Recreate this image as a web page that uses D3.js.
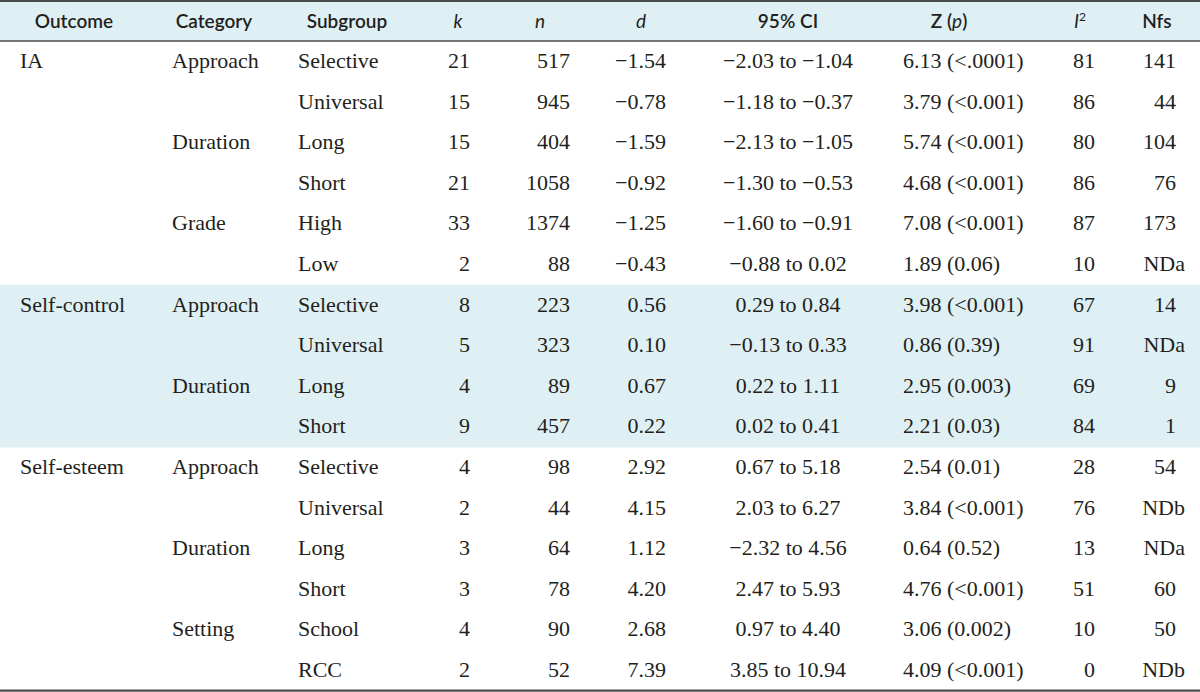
<!DOCTYPE html>
<html>
<head>
<meta charset="utf-8">
<script src="https://cdn.jsdelivr.net/npm/d3@7"></script>
<style>
  html, body { margin: 0; padding: 0; background: #fff; }
  svg { display: block; }
</style>
</head>
<body>
<svg id="chart" width="1200" height="692"></svg>
<script>
// ---- Data ----
const outcomes   = ["IA", "", "", "", "", "", "Self-control", "", "", "", "Self-esteem", "", "", "", "", ""];
const categories = ["Approach", "", "Duration", "", "Grade", "", "Approach", "", "Duration", "", "Approach", "", "Duration", "", "Setting", ""];
const subgroups  = ["Selective", "Universal", "Long", "Short", "High", "Low", "Selective", "Universal", "Long", "Short", "Selective", "Universal", "Long", "Short", "School", "RCC"];
const kValues    = [21, 15, 15, 21, 33, 2, 8, 5, 4, 9, 4, 2, 3, 3, 4, 2];
const nValues    = [517, 945, 404, 1058, 1374, 88, 223, 323, 89, 457, 98, 44, 64, 78, 90, 52];
const dValues    = ["−1.54", "−0.78", "−1.59", "−0.92", "−1.25", "−0.43", "0.56", "0.10", "0.67", "0.22", "2.92", "4.15", "1.12", "4.20", "2.68", "7.39"];
const ciValues   = ["−2.03 to −1.04", "−1.18 to −0.37", "−2.13 to −1.05", "−1.30 to −0.53", "−1.60 to −0.91", "−0.88 to 0.02",
                    "0.29 to 0.84", "−0.13 to 0.33", "0.22 to 1.11", "0.02 to 0.41",
                    "0.67 to 5.18", "2.03 to 6.27", "−2.32 to 4.56", "2.47 to 5.93", "0.97 to 4.40", "3.85 to 10.94"];
const zpValues   = ["6.13 (<.0001)", "3.79 (<0.001)", "5.74 (<0.001)", "4.68 (<0.001)", "7.08 (<0.001)", "1.89 (0.06)",
                    "3.98 (<0.001)", "0.86 (0.39)", "2.95 (0.003)", "2.21 (0.03)",
                    "2.54 (0.01)", "3.84 (<0.001)", "0.64 (0.52)", "4.76 (<0.001)", "3.06 (0.002)", "4.09 (<0.001)"];
const i2Values   = [81, 86, 80, 86, 87, 10, 67, 91, 69, 84, 28, 76, 13, 51, 10, 0];
const nfsValues  = ["141", "44", "104", "76", "173", "NDa", "14", "NDa", "9", "1", "54", "NDb", "NDa", "60", "50", "NDb"];
const shadedRows = [6, 7, 8, 9];

// ---- Layout ----
const W = 1200, H = 692;
const headerTop = 1, headerBottom = 41, tableBottom = 690.6;
const svg = d3.select("#chart");
const rowIdx = d3.range(subgroups.length);
const y = d3.scaleBand().domain(rowIdx).range([headerBottom, tableBottom]).paddingInner(0).paddingOuter(0);

const serif = "'Liberation Serif', 'Times New Roman', serif";
const sans = "Lato, 'Noto Sans', sans-serif";
const textColor = "#231f20";
const bandColor = "#dff0f4";

// header background
svg.append("rect").attr("x", 0).attr("y", headerTop).attr("width", W).attr("height", headerBottom - headerTop).attr("fill", bandColor);

// shaded band
svg.selectAll("rect.band").data(shadedRows).join("rect")
  .attr("class", "band")
  .attr("x", 0).attr("y", d => y(d)).attr("width", W).attr("height", y.bandwidth() + 0.5)
  .attr("fill", bandColor);

// columns
const columns = [
  { key: "outcome", vals: outcomes,   x: 20,   anchor: "start" },
  { key: "category", vals: categories, x: 172, anchor: "start" },
  { key: "subgroup", vals: subgroups,  x: 298, anchor: "start" },
  { key: "k",  vals: kValues,    x: 470,  anchor: "end" },
  { key: "n",  vals: nValues,    x: 570,  anchor: "end" },
  { key: "d",  vals: dValues,    x: 666,  anchor: "end" },
  { key: "ci", vals: ciValues,   x: 788,  anchor: "middle" },
  { key: "zp", vals: zpValues,   x: 903,  anchor: "start" },
  { key: "i2", vals: i2Values,   x: 1095, anchor: "end" },
  { key: "nfs", vals: nfsValues, x: 1176, anchor: "end", altX: 1185 }
];

const body = svg.append("g").attr("font-family", serif).attr("font-size", 22).attr("fill", textColor);
columns.forEach(col => {
  body.append("g").selectAll("text").data(rowIdx).join("text")
    .attr("x", i => (col.altX && isNaN(+col.vals[i])) ? col.altX : col.x)
    .attr("y", i => y(i) + y.bandwidth() / 2)
    .attr("dy", "0.3em")
    .attr("text-anchor", col.anchor)
    .text(i => col.vals[i]);
});

// header
const hdr = svg.append("g").attr("font-family", sans).attr("font-size", 19).attr("font-weight", 600).attr("fill", textColor);
const hy = (headerTop + headerBottom) / 2;
const headers = [
  { x: 74,   parts: [["Outcome", false]] },
  { x: 214,  parts: [["Category", false]] },
  { x: 347,  parts: [["Subgroup", false]] },
  { x: 458,  parts: [["k", true]] },
  { x: 540,  parts: [["n", true]] },
  { x: 641,  parts: [["d", true]] },
  { x: 788,  parts: [["95% CI", false]] },
  { x: 949,  parts: [["Z (", false], ["p", true], [")", false]] },
  { x: 1080, parts: [["I", true], ["2", false, true]] },
  { x: 1157, parts: [["Nfs", false]] }
];
headers.forEach(h => {
  const t = hdr.append("text").attr("x", h.x).attr("y", hy).attr("dy", "0.35em").attr("text-anchor", "middle");
  h.parts.forEach(p => {
    const ts = t.append("tspan").text(p[0]);
    if (p[1]) ts.attr("font-style", "italic").attr("font-weight", 400);
    if (p[2]) ts.attr("font-size", 12).attr("baseline-shift", "super").attr("font-weight", 400);
  });
});

// rules
const rules = [
  { y: headerTop, w: 2 },
  { y: headerBottom, w: 1.5 },
  { y: tableBottom, w: 2.2 }
];
svg.selectAll("line.rule").data(rules).join("line")
  .attr("class", "rule")
  .attr("x1", 0).attr("x2", W)
  .attr("y1", d => d.y).attr("y2", d => d.y)
  .attr("stroke", "#4a4a4a").attr("stroke-width", d => d.w);
</script>
</body>
</html>
